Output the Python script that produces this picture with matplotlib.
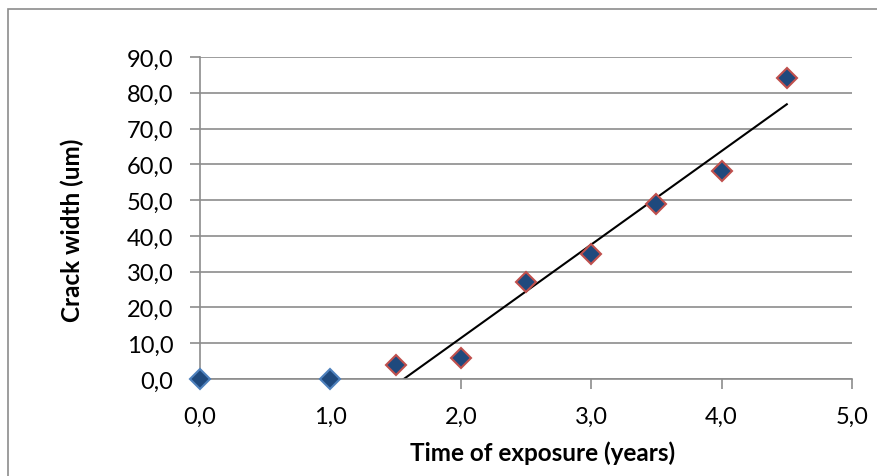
import numpy as np
import matplotlib.pyplot as plt
from matplotlib.patches import Rectangle

plt.rcParams['font.family'] = ['Lato', 'DejaVu Sans']

# data
time_zero = [0.0, 1.0]
crack_zero = [0.0, 0.0]
time_years = [1.5, 2.0, 2.5, 3.0, 3.5, 4.0, 4.5]
crack_um = [4.0, 6.0, 27.0, 35.0, 49.0, 58.0, 84.0]

fig = plt.figure(figsize=(8.77, 4.77), dpi=100)
ax = fig.add_axes([200/877, 1-380/477, 652/877, 322/477])

# outer chart border (left and top only visible)
fig.patches.append(Rectangle((8/877, -0.1), 1.2, 1-10/477+0.1, transform=fig.transFigure,
                             fill=False, edgecolor='#8c8c8c', linewidth=1.2))

ax.set_xlim(0, 5)
ax.set_ylim(0, 90)
ax.set_yticks(np.arange(0, 91, 10))
ax.set_xticks(np.arange(0, 5.1, 1))
ax.yaxis.grid(True, color='#8c8c8c', linewidth=1.2)
ax.set_axisbelow(True)
for s in ['top', 'right']:
    ax.spines[s].set_visible(False)
for s in ['left', 'bottom']:
    ax.spines[s].set_color('#8c8c8c')
    ax.spines[s].set_linewidth(1.2)
ax.tick_params(axis='both', direction='out', length=7, width=1.2, color='#8c8c8c',
               labelsize=17)
ax.tick_params(axis='y', pad=12)
ax.tick_params(axis='x', pad=12)
ax.set_yticklabels([f'{v:.1f}'.replace('.', ',') for v in ax.get_yticks()])
ax.set_xticklabels([f'{v:.1f}'.replace('.', ',') for v in ax.get_xticks()])

# linear trendline on the cracked series
slope, intercept = np.polyfit(time_years, crack_um, 1)
x0 = -intercept / slope
xs = np.array([x0, max(time_years)])
ax.plot(xs, slope * xs + intercept, color='black', linewidth=1.5, zorder=2)

ax.plot(time_zero, crack_zero, 'D', markersize=10, markerfacecolor='#1f497d',
        markeredgecolor='#4f81bd', markeredgewidth=1.5, clip_on=False, zorder=3)
ax.plot(time_years, crack_um, 'D', markersize=10, markerfacecolor='#1f497d',
        markeredgecolor='#c0504d', markeredgewidth=1.5, clip_on=False, zorder=3)

ax.set_xlabel('Time of exposure (years)', fontsize=17.5, fontweight='bold', labelpad=10)
ax.set_ylabel('Crack width (um)', fontsize=17.5, fontweight='bold', labelpad=31)
ax.xaxis.label.set_x(0.526)
ax.yaxis.label.set_y(0.466)

fig.savefig('out.png', dpi=100)
